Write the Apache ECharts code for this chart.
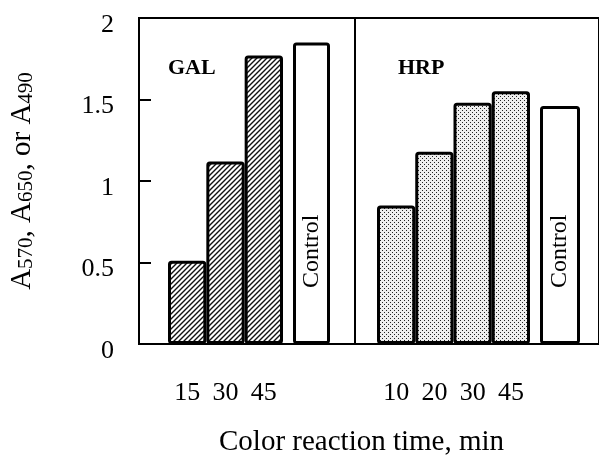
<!DOCTYPE html>
<html>
<head>
<meta charset="utf-8">
<script src="https://cdn.jsdelivr.net/npm/echarts@6/dist/echarts.min.js"></script>
<style>
  html, body { margin: 0; padding: 0; background: #fff; }
  #charts { width: 599px; height: 460px; }
</style>
</head>
<body>
<div id="charts"></div>
<script>
// data
var galTimes = ['15', '30', '45'];
var galValues = [0.51, 1.12, 1.77];
var galControl = [1.85];
var hrpTimes = ['10', '20', '30', '45'];
var hrpValues = [0.85, 1.18, 1.48, 1.55];
var hrpControl = [1.46];
var controlName = ['Control'];

var serif = 'Liberation Serif';

// fill patterns
function hatchPattern(){
	var c = document.createElement('canvas');
	c.width = 5; c.height = 5;
	var ctx = c.getContext('2d');
	ctx.fillStyle = '#fff';
	ctx.fillRect(0, 0, 5, 5);
	ctx.strokeStyle = '#111';
	ctx.lineWidth = 1.4;
	ctx.beginPath();
	ctx.moveTo(-1, 6); ctx.lineTo(6, -1);
	ctx.moveTo(-1, 1); ctx.lineTo(1, -1);
	ctx.moveTo(4, 6); ctx.lineTo(6, 4);
	ctx.stroke();
	return c;
}
function dotPattern(){
	var c = document.createElement('canvas');
	c.width = 4; c.height = 4;
	var ctx = c.getContext('2d');
	ctx.fillStyle = '#eeeeee';
	ctx.fillRect(0, 0, 4, 4);
	ctx.fillStyle = '#222';
	ctx.fillRect(0, 0, 1, 1);
	ctx.fillRect(2, 2, 1, 1);
	return c;
}

var top0 = 18, h0 = 326;
function grid(left, width, show){
	return { left: left, width: width, top: top0, height: h0, show: !!show,
		borderColor: '#000', borderWidth: 2, backgroundColor: 'transparent' };
}
function hiddenY(idx){
	return { type: 'value', gridIndex: idx, min: 0, max: 2, show: false };
}
function timeAxis(idx, data){
	return { type: 'category', gridIndex: idx, data: data,
		axisLine: { show: false }, axisTick: { show: false },
		axisLabel: { margin: 36, fontSize: 26, fontFamily: serif, color: '#000' } };
}
function plainAxis(idx, data){
	return { type: 'category', gridIndex: idx, data: data, show: false };
}
function barStyle(fill){
	return { color: fill, borderColor: '#000', borderWidth: 3, borderRadius: 2 };
}
var controlLabel = {
	show: true, position: 'insideBottom', distance: 56, rotate: 90,
	align: 'left', verticalAlign: 'middle',
	formatter: function(p){ return p.name; },
	fontSize: 24, fontFamily: serif, color: '#000'
};
var panelText = { fontFamily: serif, fontWeight: 'bold', fontSize: 22, color: '#000' };

var charts = echarts.init(document.getElementById('charts'));
var option = {
	animation: false,
	title: [
		{ text: 'GAL', left: 163, top: 52, textStyle: panelText },
		{ text: 'HRP', left: 393, top: 52, textStyle: panelText },
		{ text: 'Color reaction time, min', left: 214, top: 423, textStyle: { fontFamily: serif, fontWeight: 'normal', fontSize: 29, color: '#000' } }
	],
	grid: [
		grid(139, 216, true),
		grid(355, 250, true),
		grid(168, 115),
		grid(293, 37),
		grid(377, 153),
		grid(540, 40)
	],
	xAxis: [
		plainAxis(0, ['']),
		plainAxis(1, ['']),
		timeAxis(2, galTimes),
		plainAxis(3, controlName),
		timeAxis(4, hrpTimes),
		plainAxis(5, controlName)
	],
	yAxis: [
		{
			type: 'value', gridIndex: 0, min: 0, max: 2, interval: 0.5,
			splitLine: { show: false },
			axisLine: { show: true, lineStyle: { color: '#000', width: 2 } },
			axisTick: { show: true, inside: true, length: 12, lineStyle: { color: '#000', width: 2 } },
			axisLabel: { margin: 25, verticalAlign: 'top', lineHeight: 14, fontSize: 26, fontFamily: serif, color: '#000' },
			name: '{m|A}{s|570}{m|, A}{s|650}{m|, or A}{s|490}',
			nameLocation: 'middle', nameGap: 102, nameRotate: 90,
			nameTextStyle: {
				rich: {
					m: { fontSize: 29, fontFamily: serif, color: '#000', lineHeight: 38, verticalAlign: 'bottom' },
					s: { fontSize: 21, fontFamily: serif, color: '#000', lineHeight: 22, verticalAlign: 'bottom' }
				}
			}
		},
		hiddenY(1), hiddenY(2), hiddenY(3), hiddenY(4), hiddenY(5)
	],
	series: [
		{ type: 'bar', xAxisIndex: 2, yAxisIndex: 2, barWidth: '100%', data: galValues, itemStyle: barStyle({ image: hatchPattern(), repeat: 'repeat' }) },
		{ type: 'bar', xAxisIndex: 3, yAxisIndex: 3, barWidth: '100%', data: galControl, itemStyle: barStyle('#fff'), label: controlLabel },
		{ type: 'bar', xAxisIndex: 4, yAxisIndex: 4, barWidth: '100%', data: hrpValues, itemStyle: barStyle({ image: dotPattern(), repeat: 'repeat' }) },
		{ type: 'bar', xAxisIndex: 5, yAxisIndex: 5, barWidth: '100%', data: hrpControl, itemStyle: barStyle('#fff'), label: controlLabel }
	]
};
charts.setOption(option);
</script>
</body>
</html>
